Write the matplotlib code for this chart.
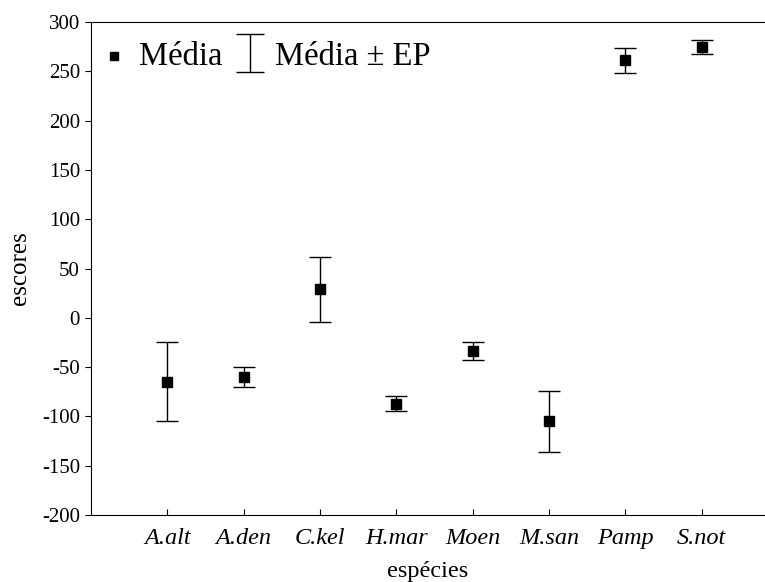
import matplotlib
matplotlib.use("Agg")
import matplotlib.pyplot as plt

especies = ["A.alt", "A.den", "C.kel", "H.mar", "Moen", "M.san", "Pamp", "S.not"]
media = [-65, -60, 29, -87, -34, -105, 261, 275]
ep = [40, 10, 33, 8, 9, 31, 13, 7]

plt.rcParams["font.family"] = ["Liberation Serif", "DejaVu Serif"]
plt.rcParams["axes.unicode_minus"] = False

fig = plt.figure(figsize=(7.65, 5.82), dpi=100)
ax = fig.add_axes([0.119, 0.1151, 0.881, 0.8471])

x = list(range(1, len(especies) + 1))
ax.errorbar(x, media, yerr=ep, fmt="none", ecolor="black", elinewidth=1,
            capsize=8, capthick=1)
ax.plot(x, media, "s", color="black", markersize=7)

ax.set_xlim(0, 8.83)
ax.set_ylim(-200, 300)
ax.set_yticks(range(-200, 301, 50))
ax.set_xticks(x)
ax.set_xticklabels(especies, fontstyle="italic", fontsize=17.5)
ax.tick_params(axis="y", direction="out", length=4, pad=4, labelsize=15)
ax.tick_params(axis="x", direction="in", length=4, pad=9)
ax.spines["right"].set_visible(False)

ax.set_xlabel("espécies", fontsize=17.5, labelpad=9)
ax.set_ylabel("escores", fontsize=18, labelpad=8)

# legenda: marcador da média e barra de erro
ax.plot([0.30], [266], "s", color="black", markersize=6)
ax.text(0.63, 265, "Média", fontsize=23.5, va="center")
ax.errorbar([2.085], [268.5], yerr=[[19], [19]], fmt="none", ecolor="black",
            elinewidth=1, capsize=10, capthick=1)
ax.text(2.41, 265, "Média ± EP", fontsize=23.5, va="center")

fig.savefig("out.png", dpi=100)
